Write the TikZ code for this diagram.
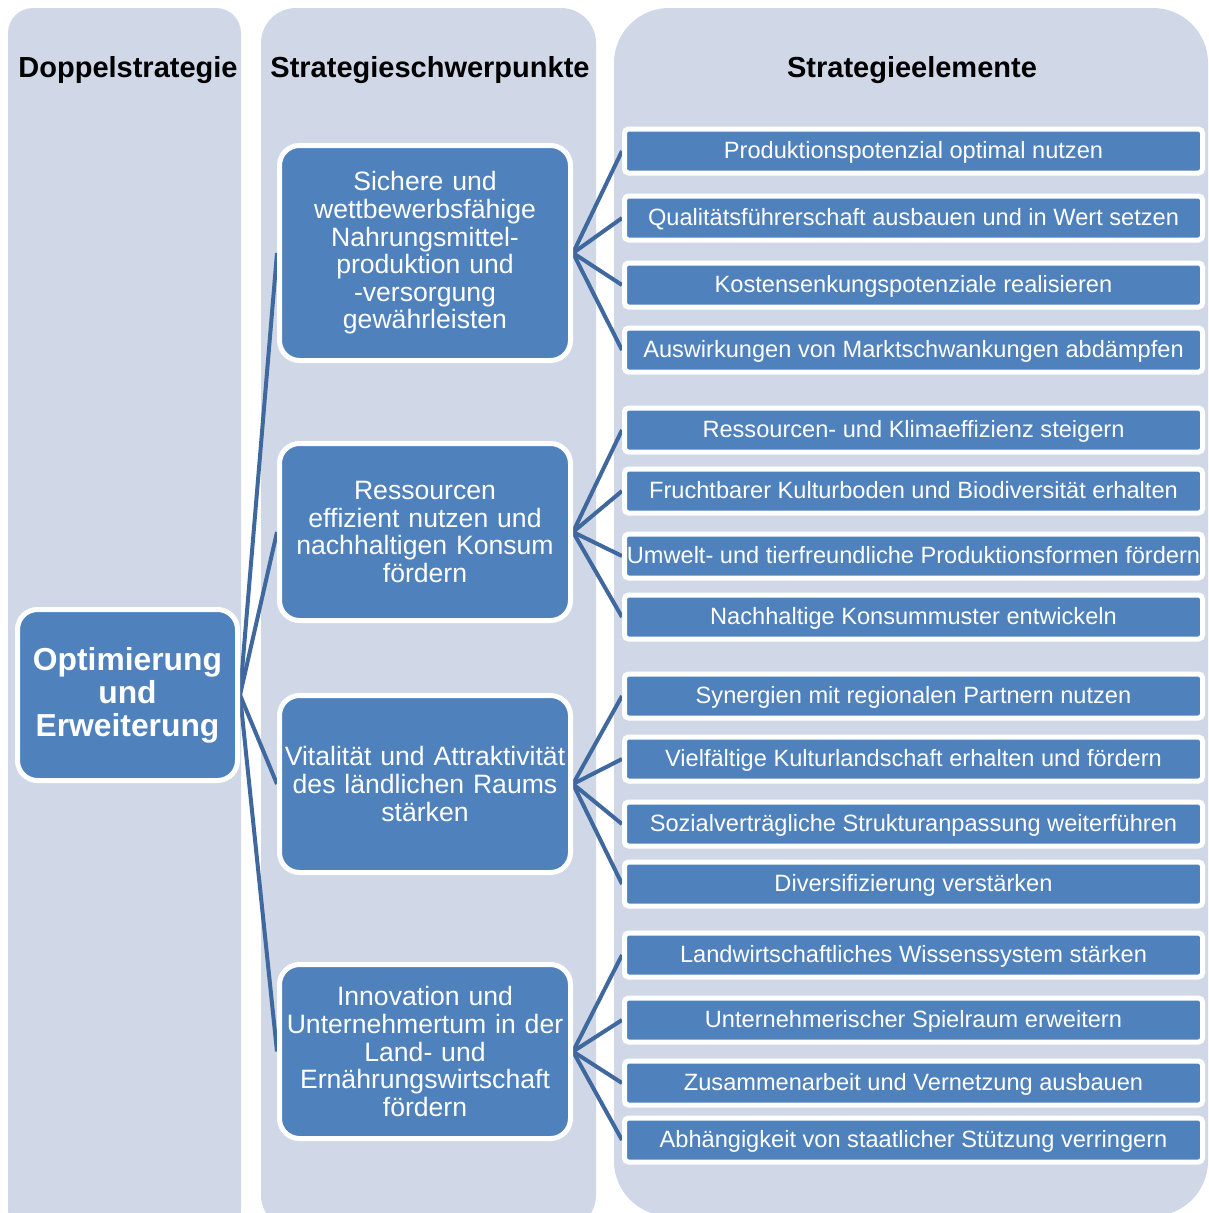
\documentclass[tikz,border=0pt]{standalone}
\usepackage{fontspec}
\setmainfont{Liberation Sans}
\usetikzlibrary{positioning}
\definecolor{colbg}{RGB}{208,215,231}
\definecolor{boxblue}{RGB}{79,129,189}
\definecolor{linkblue}{RGB}{63,104,158}
\pgfdeclarelayer{columns}
\pgfdeclarelayer{links}
\pgfsetlayers{columns,links,main}

\begin{document}
\begin{tikzpicture}[x=1pt,y=-1pt,
	column/.style={fill=colbg},
	heading/.style={anchor=base,font=\bfseries\fontsize{29}{31}\selectfont},
	strategy/.style={draw=white,line width=5pt,fill=boxblue,rounded corners=20pt,text=white,align=center},
	focus/.style={strategy,minimum width=291pt,text width=285pt,inner xsep=3pt,font=\fontsize{26.6}{27.6}\selectfont},
	element/.style={draw=white,line width=5pt,fill=boxblue,rounded corners=4pt,text=white,minimum width=578pt,minimum height=44pt,inner sep=0pt,text depth=3pt,font=\fontsize{23.6}{26}\selectfont},
	link/.style={draw=linkblue,line width=4pt}]
	\useasboundingbox (0,0) rectangle (1208,1213);
	\begin{pgfonlayer}{columns}
		\fill[column,rounded corners=25pt] (8,8) rectangle (241,1235);
		\fill[column,rounded corners=35pt] (261,8) rectangle (596,1230);
		\fill[column,rounded corners=55pt] (614,8) rectangle (1208,1216);
	\end{pgfonlayer}
	\node[heading] (dopp) at (128,77) {Doppelstrategie};
	\node[heading] (schwer) at (430,77) {Strategieschwerpunkte};
	\node[heading] (elem) at (912,77) {Strategieelemente};
	\node[strategy,minimum width=220pt,minimum height=171pt,font=\bfseries\fontsize{31.8}{33}\selectfont] (opt) at (127.5,695) {Optimierung\\und\\Erweiterung};
	\node[focus,minimum height=215pt] (sicher) at (425,253) {Sichere und\\wettbewerbsfähige\\Nahrungsmittel-\\produktion und\\-versorgung\\gewährleisten};
	\node[focus,minimum height=177pt] (ressourcen) at (425,532) {Ressourcen\\effizient nutzen und\\nachhaltigen Konsum\\fördern};
	\node[focus,minimum height=177pt] (vital) at (425,784) {Vitalität und Attraktivität\\des ländlichen Raums\\stärken};
	\node[focus,minimum height=174pt] (innovation) at (425,1051.5) {Innovation und\\Unternehmertum in der\\Land- und\\Ernährungswirtschaft\\fördern};
	\node[element] (prod) at (913.5,151) {Produktionspotenzial optimal nutzen};
	\node[element] (qual) at (913.5,218) {Qualitätsführerschaft ausbauen und in Wert setzen};
	\node[element] (kost) at (913.5,285) {Kostensenkungspotenziale realisieren};
	\node[element] (markt) at (913.5,350) {Auswirkungen von Marktschwankungen abdämpfen};
	\node[element] (klima) at (913.5,430) {Ressourcen- und Klimaeffizienz steigern};
	\node[element] (boden) at (913.5,491) {Fruchtbarer Kulturboden und Biodiversität erhalten};
	\node[element] (umwelt) at (913.5,556) {Umwelt- und tierfreundliche Produktionsformen fördern};
	\node[element] (konsum) at (913.5,617) {Nachhaltige Konsummuster entwickeln};
	\node[element] (synergie) at (913.5,696) {Synergien mit regionalen Partnern nutzen};
	\node[element] (landschaft) at (913.5,759) {Vielfältige Kulturlandschaft erhalten und fördern};
	\node[element] (sozial) at (913.5,824) {Sozialverträgliche Strukturanpassung weiterführen};
	\node[element] (divers) at (913.5,884) {Diversifizierung verstärken};
	\node[element] (wissen) at (913.5,955) {Landwirtschaftliches Wissenssystem stärken};
	\node[element] (spielraum) at (913.5,1020) {Unternehmerischer Spielraum erweitern};
	\node[element] (netz) at (913.5,1083) {Zusammenarbeit und Vernetzung ausbauen};
	\node[element] (staat) at (913.5,1140) {Abhängigkeit von staatlicher Stützung verringern};
	\begin{pgfonlayer}{links}
		\draw[link] (opt.east) -- (sicher.west);
		\draw[link] (opt.east) -- (ressourcen.west);
		\draw[link] (opt.east) -- (vital.west);
		\draw[link] (opt.east) -- (innovation.west);
		\draw[link] (sicher.east) -- (prod.west);
		\draw[link] (sicher.east) -- (qual.west);
		\draw[link] (sicher.east) -- (kost.west);
		\draw[link] (sicher.east) -- (markt.west);
		\draw[link] (ressourcen.east) -- (klima.west);
		\draw[link] (ressourcen.east) -- (boden.west);
		\draw[link] (ressourcen.east) -- (umwelt.west);
		\draw[link] (ressourcen.east) -- (konsum.west);
		\draw[link] (vital.east) -- (synergie.west);
		\draw[link] (vital.east) -- (landschaft.west);
		\draw[link] (vital.east) -- (sozial.west);
		\draw[link] (vital.east) -- (divers.west);
		\draw[link] (innovation.east) -- (wissen.west);
		\draw[link] (innovation.east) -- (spielraum.west);
		\draw[link] (innovation.east) -- (netz.west);
		\draw[link] (innovation.east) -- (staat.west);
	\end{pgfonlayer}
\end{tikzpicture}
\end{document}
